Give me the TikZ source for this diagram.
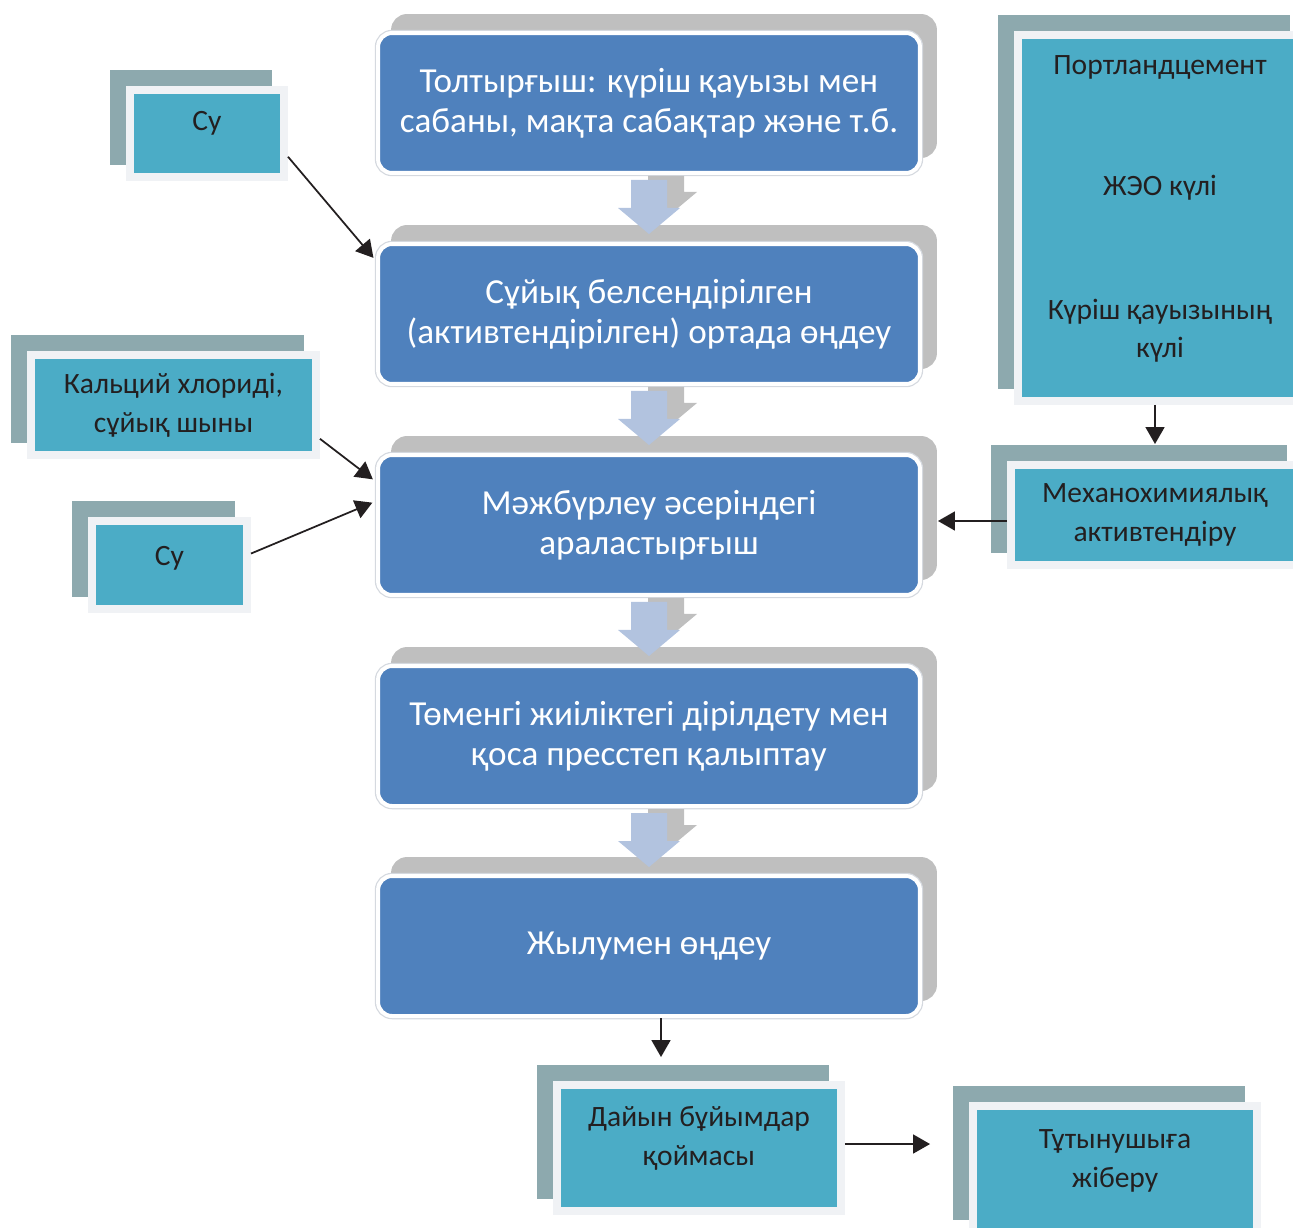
\documentclass[tikz,border=0pt]{standalone}
\usepackage{fontspec}
\setmainfont{Carlito}
\usetikzlibrary{arrows.meta,shadows}

\definecolor{boxblue}{HTML}{4F81BD}
\definecolor{boxrim}{HTML}{D5D9DF}
\definecolor{shgray}{HTML}{BFBFBF}
\definecolor{arrowblue}{HTML}{B2C3DF}
\definecolor{sideteal}{HTML}{4BACC6}
\definecolor{sidegray}{HTML}{8DA9AE}
\definecolor{sideframe}{HTML}{F0F2F5}
\definecolor{darktext}{HTML}{231F20}

\begin{document}
\begin{tikzpicture}[x=0.02cm,y=-0.02cm]
\tikzstyle{main} = [copy shadow={shadow xshift=0.3cm, shadow yshift=0.34cm, fill=shgray, draw=shgray, opacity=1},
  preaction={draw=boxrim, line width=0.13cm}, draw=white, line width=0.08cm, fill=boxblue,
  rounded corners=0.28cm, minimum width=10.84cm, minimum height=2.8cm, inner sep=0pt,
  align=center, text=white, font=\fontsize{20}{22.8}\selectfont]
\tikzstyle{side} = [copy shadow={shadow xshift=-0.32cm, shadow yshift=0.32cm, fill=sidegray, draw=sidegray, opacity=1},
  draw=sideframe, line width=0.16cm, fill=sideteal, inner sep=0pt,
  align=center, text=darktext, font=\fontsize{16.8}{22}\selectfont]
\tikzstyle{conn} = [draw=darktext, line width=1pt, -{Triangle[length=0.34cm,width=0.38cm]}]

\useasboundingbox (0,0) rectangle (1293,1227);
\clip (0,0) rectangle (1293,1227);

% main line
\node[main] (m1) at (649,103) {Толтырғыш: күріш қауызы мен\\сабаны, мақта сабақтар және т.б.};
\node[main] (m2) at (649,314) {Сұйық белсендірілген\\(активтендірілген) ортада өңдеу};
\node[main] (m3) at (649,525) {Мәжбүрлеу әсеріндегі\\араластырғыш};
\node[main] (m4) at (649,736) {Төменгі жиіліктегі дірілдету мен\\қоса пресстеп қалыптау};
\node[main] (m5) at (649,946) {Жылумен өңдеу};

% block arrows between the steps
\foreach \i in {1,...,4} {
  \fill[shgray] ([shift={(-1,1)}]m\i.south) -- ([shift={(35,1)}]m\i.south) -- ([shift={(35,17)}]m\i.south)
    -- ([shift={(48,17)}]m\i.south) -- ([shift={(17,43)}]m\i.south) -- ([shift={(-14,17)}]m\i.south)
    -- ([shift={(-1,17)}]m\i.south) -- cycle;
  \fill[arrowblue] ([shift={(-18,5)}]m\i.south) -- ([shift={(18,5)}]m\i.south) -- ([shift={(18,33)}]m\i.south)
    -- ([shift={(31,33)}]m\i.south) -- ([shift={(0,59)}]m\i.south) -- ([shift={(-31,33)}]m\i.south)
    -- ([shift={(-18,33)}]m\i.south) -- cycle;
}

% inputs
\node[side, minimum width=3.08cm, minimum height=1.74cm, text depth=0.49cm] (su1) at (207,133.5) {Су};
\node[side, minimum width=5.7cm, minimum height=2cm] (kal) at (173.5,405) {Кальций хлориді,\\сұйық шыны};
\node[side, minimum width=3.1cm, minimum height=1.76cm, text depth=0.35cm] (su2) at (169.5,565) {Су};
\node[side, minimum width=5.68cm, minimum height=7.32cm, text depth=0.45cm] (port) at (1160,218)
  {Портландцемент\\[1.64cm]ЖЭО күлі\\[1.7cm]Күріш қауызының\\күлі};
\node[side, minimum width=5.76cm, minimum height=2cm] (mech) at (1155,515) {Механохимиялық\\активтендіру};
\node[side, minimum width=5.68cm, minimum height=2.52cm, text depth=0.47cm] (dayin) at (699,1148) {Дайын бұйымдар\\қоймасы};
\node[side, minimum width=5.68cm, minimum height=2.52cm, text depth=0.43cm] (tut) at (1115,1169) {Тұтынушыға\\жіберу};

% connectors
\draw[conn, shorten >=0.08cm] (su1.-16) -- (m2.169);
\draw[conn, shorten >=0.08cm] (kal.-13) -- (m3.171);
\draw[conn, shorten >=0.08cm] (su2.8) -- (m3.175);
\draw[conn, shorten >=0.34cm] (mech.north |- port.south) -- (mech.north);
\draw[conn, shorten >=0.32cm] ([yshift=-0.12cm]mech.west) -- ([yshift=-0.12cm]mech.west -| m3.east);
\draw[conn, shorten >=0.48cm] ([xshift=0.24cm]m5.south) -- ([xshift=0.24cm]m5.south |- dayin.north);
\draw[conn, shorten >=0.78cm] ([yshift=0.08cm]dayin.east) -- ([yshift=0.08cm]dayin.east -| tut.west);
\end{tikzpicture}
\end{document}
